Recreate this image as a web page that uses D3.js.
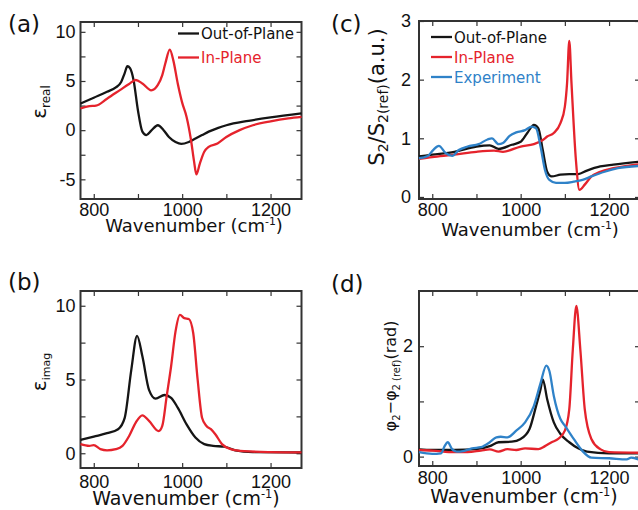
<!DOCTYPE html>
<html>
<head>
<meta charset="utf-8">
<script src="https://cdn.jsdelivr.net/npm/d3@7"></script>
<style>
  body { margin: 0; background: #fff; }
  svg { display: block; font-family: "DejaVu Sans", sans-serif; }
</style>
</head>
<body>
<svg width="638" height="510"></svg>
<script>
// (a) real part of permittivity
const aOutWn = [770, 800, 830, 850, 862, 870, 876, 882, 890, 900, 910, 919, 930, 945, 958, 970, 985, 998, 1015, 1030, 1045, 1060, 1080, 1100, 1150, 1200, 1270]
const aOutVal = [2.7, 3.3, 3.9, 4.35, 4.9, 5.8, 6.5, 6.3, 5.1, 2.0, -0.15, -0.5, -0.05, 0.5, 0.0, -0.7, -1.2, -1.4, -1.2, -0.85, -0.5, -0.15, 0.2, 0.5, 0.95, 1.3, 1.7]
const aInWn = [770, 790, 805, 830, 860, 880, 895, 910, 930, 945, 955, 962, 972, 980, 990, 1000, 1010, 1020, 1027, 1032, 1040, 1050, 1060, 1080, 1100, 1130, 1160, 1200, 1240, 1270]
const aInVal = [2.2, 2.45, 2.5, 3.2, 4.1, 4.7, 5.1, 4.75, 4.05, 4.6, 5.6, 6.8, 8.2, 7.1, 4.75, 2.8, 1.35, -1.0, -3.2, -4.5, -3.4, -2.2, -1.7, -1.35, -0.7, 0.0, 0.5, 0.9, 1.2, 1.35]

// (b) imaginary part
const bOutWn = [770, 800, 830, 855, 870, 885, 898, 910, 925, 940, 960, 975, 990, 1010, 1030, 1050, 1070, 1095, 1120, 1160, 1270]
const bOutVal = [0.9, 1.13, 1.36, 1.63, 2.4, 5.67, 7.96, 6.57, 4.3, 3.7, 3.95, 3.76, 3.09, 1.96, 1.07, 0.62, 0.5, 0.45, 0.2, 0.08, 0.05]
const bInWn = [770, 790, 800, 815, 830, 850, 865, 880, 895, 910, 925, 947, 955, 965, 975, 985, 995, 1005, 1015, 1025, 1035, 1045, 1055, 1065, 1075, 1090, 1110, 1140, 1200, 1270]
const bInVal = [0.62, 0.5, 0.55, 0.28, 0.2, 0.28, 0.5, 1.17, 2.08, 2.57, 2.19, 1.5, 1.85, 3.87, 5.9, 8.26, 9.38, 9.16, 9.1, 8.15, 5.0, 2.41, 1.85, 1.63, 1.29, 0.62, 0.28, 0.14, 0.08, 0.06]

// (c) amplitude S2/S2(ref)
const cOutWn = [770, 800, 850, 900, 930, 950, 980, 1000, 1015, 1030, 1040, 1050, 1060, 1070, 1090, 1110, 1130, 1150, 1180, 1210, 1270]
const cOutVal = [0.69, 0.72, 0.77, 0.86, 0.88, 0.82, 0.89, 0.94, 1.09, 1.23, 1.17, 0.8, 0.43, 0.35, 0.38, 0.39, 0.39, 0.45, 0.52, 0.55, 0.6]
const cInWn = [770, 800, 850, 900, 940, 960, 1000, 1030, 1050, 1060, 1075, 1090, 1100, 1105, 1110, 1115, 1125, 1133, 1145, 1160, 1180, 1210, 1270]
const cInVal = [0.65, 0.68, 0.72, 0.77, 0.79, 0.77, 0.86, 0.9, 0.97, 1.03, 1.09, 1.26, 1.54, 1.94, 2.66, 1.94, 0.63, 0.12, 0.21, 0.35, 0.43, 0.49, 0.56]
const cExpWn = [770, 790, 802, 815, 830, 845, 860, 880, 905, 925, 935, 950, 960, 975, 990, 1010, 1025, 1035, 1045, 1055, 1065, 1080, 1100, 1120, 1140, 1160, 1190, 1220, 1270]
const cExpVal = [0.66, 0.7, 0.8, 0.87, 0.75, 0.7, 0.8, 0.86, 0.9, 0.98, 1.0, 0.9, 0.92, 1.04, 1.1, 1.14, 1.2, 1.17, 0.86, 0.46, 0.29, 0.24, 0.24, 0.26, 0.29, 0.35, 0.43, 0.49, 0.53]

// (d) phase
const dOutWn = [770, 800, 850, 900, 930, 950, 980, 1000, 1020, 1035, 1045, 1050, 1060, 1075, 1090, 1110, 1130, 1150, 1200, 1270]
const dOutVal = [0.13, 0.12, 0.12, 0.135, 0.19, 0.26, 0.27, 0.32, 0.5, 0.92, 1.22, 1.4, 1.04, 0.62, 0.41, 0.26, 0.15, 0.09, 0.06, 0.06]
const dInWn = [770, 800, 850, 880, 910, 930, 950, 970, 990, 1010, 1040, 1055, 1070, 1085, 1100, 1110, 1118, 1126, 1135, 1145, 1160, 1180, 1200, 1270]
const dInVal = [0.12, 0.11, 0.08, 0.08, 0.11, 0.13, 0.09, 0.135, 0.12, 0.15, 0.135, 0.19, 0.26, 0.32, 0.47, 0.86, 1.94, 2.73, 1.94, 0.86, 0.32, 0.135, 0.08, 0.07]
const dExpWn = [770, 800, 820, 828, 835, 845, 855, 870, 890, 910, 930, 945, 955, 970, 990, 1010, 1030, 1045, 1058, 1065, 1075, 1090, 1100, 1120, 1140, 1160, 1200, 1240, 1250, 1270]
const dExpVal = [0.08, 0.05, 0.06, 0.19, 0.26, 0.135, 0.09, 0.1, 0.15, 0.17, 0.26, 0.35, 0.36, 0.35, 0.47, 0.62, 0.92, 1.33, 1.65, 1.55, 1.1, 0.68, 0.56, 0.32, 0.1, -0.02, -0.03, -0.05, -0.02, -0.06]

const xTicks = [800, 900, 1000, 1100, 1200]
const xLabels = [800, 1000, 1200]
const legendNames = ['Out-of-Plane', 'In-Plane', 'Experiment']

const BLACK = '#151515', RED = '#e5232c', BLUE = '#2f82c8'
const svg = d3.select('svg')

function Panel (o) {
    const self = {}
    let x = d3.scaleLinear().domain([770, 1270]).range([o.left, o.left + 221])
    let y = d3.scaleLinear().domain(o.ydom).range([o.bottom, o.top])
    let g = svg.append('g')
    let clipId = 'clip-' + o.name
    g.append('clipPath').attr('id', clipId)
	.append('rect')
	.attr('x', o.left).attr('y', o.top)
	.attr('width', 221).attr('height', o.bottom - o.top)
    let fmt = labels => d => labels.includes(d) ? String(d) : ''
    g.append('g')
	.attr('class', 'axis')
	.attr('transform', 'translate(0,' + o.bottom + ')')
	.call(d3.axisBottom(x).tickValues(xTicks).tickSize(-5).tickPadding(o.xpad).tickFormat(fmt(xLabels)))
    g.append('g')
	.attr('class', 'axis')
	.attr('transform', 'translate(0,' + o.top + ')')
	.call(d3.axisTop(x).tickValues(xTicks).tickSize(-5).tickFormat(''))
    g.append('g')
	.attr('class', 'axis')
	.attr('transform', 'translate(' + o.left + ',0)')
	.call(d3.axisLeft(y).tickValues(o.yticks).tickSize(-5).tickPadding(o.ypad).tickFormat(fmt(o.ylabels)))
    g.append('g')
	.attr('class', 'axis')
	.attr('transform', 'translate(' + (o.left + 221) + ',0)')
	.call(d3.axisRight(y).tickValues(o.yticks).tickSize(-5).tickFormat(''))
    g.selectAll('.axis .domain').remove()
    g.selectAll('.axis line').attr('stroke', '#333').attr('stroke-width', 1.2)
    g.selectAll('.axis text').attr('fill', '#111').style('font-size', '18px')
    g.append('rect')
	.attr('x', o.left).attr('y', o.top)
	.attr('width', 221).attr('height', o.bottom - o.top)
	.attr('fill', 'none').attr('stroke', '#333').attr('stroke-width', 2)
    let line = d3.line()
	.x(d => x(d[0]))
	.y(d => y(d[1]))
	.curve(d3.curveMonotoneX)
    o.series.forEach(function (s) {
	g.append('path')
	    .datum(s.wn.map((w, i) => [w, s.val[i]]))
	    .attr('clip-path', 'url(#' + clipId + ')')
	    .attr('d', line)
	    .attr('fill', 'none')
	    .attr('stroke', s.color)
	    .attr('stroke-width', 2.3)
	    .attr('stroke-linejoin', 'round')
    })
    // x title
    let xt = g.append('text')
	.attr('x', o.xtitle[0]).attr('y', o.xtitle[1])
	.attr('text-anchor', 'middle')
	.style('font-size', o.xtitle[2] + 'px')
	.attr('fill', '#111')
    xt.append('tspan').text('Wavenumber (cm')
    xt.append('tspan').attr('dy', -7).style('font-size', (o.xtitle[2] * 0.6) + 'px').text('-1')
    xt.append('tspan').attr('dy', 7).text(')')
    // panel letter
    g.append('text')
	.attr('x', o.letter[0]).attr('y', o.letter[1])
	.style('font-size', '23px')
	.attr('fill', '#111')
	.text(o.name)
    self.x = x
    self.y = y
    self.g = g
    return self
}

function legend (p, x0, y0, step, items) {
    items.forEach(function (it, i) {
	p.g.append('line')
	    .attr('x1', x0).attr('x2', x0 + 21)
	    .attr('y1', y0 + i * step).attr('y2', y0 + i * step)
	    .attr('stroke', it.color).attr('stroke-width', 2.3)
	p.g.append('text')
	    .attr('x', x0 + 23).attr('y', y0 + i * step + 5.5)
	    .attr('fill', it.text)
	    .style('font-size', '15px')
	    .text(it.name)
    })
}

function ytitle (x, y, parts) {
    let t = svg.append('text')
	.attr('transform', 'translate(' + x + ',' + y + ') rotate(-90)')
	.attr('text-anchor', 'middle')
	.attr('fill', '#111')
    parts.forEach(function (p) {
	t.append('tspan').attr('dy', p[2]).style('font-size', p[1] + 'px').text(p[0])
    })
}

let pa = Panel({
    name: '(a)', left: 80.5, top: 22, bottom: 199, ydom: [-7, 11],
    yticks: [-5, -2.5, 0, 2.5, 5, 7.5, 10], ylabels: [-5, 0, 5, 10], xpad: 4, ypad: 5,
    xtitle: [194, 232, 18], letter: [8, 32],
    series: [
	{wn: aOutWn, val: aOutVal, color: BLACK},
	{wn: aInWn, val: aInVal, color: RED}
    ]
})
legend(pa, 178, 33.5, 24, [
    {name: legendNames[0], color: BLACK, text: '#111'},
    {name: legendNames[1], color: RED, text: RED}
])
ytitle(46, 102, [['ε', 20, 0], ['real', 12, 4]])

let pb = Panel({
    name: '(b)', left: 80.5, top: 291, bottom: 468, ydom: [-1, 11],
    yticks: [0, 2.5, 5, 7.5, 10], ylabels: [0, 5, 10], xpad: 7, ypad: 5,
    xtitle: [186, 505, 19], letter: [8, 290],
    series: [
	{wn: bOutWn, val: bOutVal, color: BLACK},
	{wn: bInWn, val: bInVal, color: RED}
    ]
})
ytitle(46, 372, [['ε', 20, 0], ['imag', 11, 4]])

let pc = Panel({
    name: '(c)', left: 419, top: 21, bottom: 199, ydom: [-0.035, 3],
    yticks: [0, 1, 2, 3], ylabels: [0, 1, 2, 3], xpad: 4, ypad: 8,
    xtitle: [530, 236, 18], letter: [331, 32],
    series: [
	{wn: cOutWn, val: cOutVal, color: BLACK},
	{wn: cInWn, val: cInVal, color: RED},
	{wn: cExpWn, val: cExpVal, color: BLUE}
    ]
})
legend(pc, 431, 37, 20, [
    {name: legendNames[0], color: BLACK, text: '#111'},
    {name: legendNames[1], color: RED, text: RED},
    {name: legendNames[2], color: BLUE, text: BLUE}
])
ytitle(384, 97, [['S', 21, 0], ['2', 14, 4], ['/S', 21, -4], ['2(ref)', 14, 4], ['(a.u.)', 21, -4]])

let pd = Panel({
    name: '(d)', left: 419, top: 291, bottom: 466, ydom: [-0.17, 3],
    yticks: [0, 1, 2], ylabels: [0, 2], xpad: 5, ypad: 6,
    xtitle: [524, 503, 19], letter: [331, 292],
    series: [
	{wn: dOutWn, val: dOutVal, color: BLACK},
	{wn: dInWn, val: dInVal, color: RED},
	{wn: dExpWn, val: dExpVal, color: BLUE}
    ]
})
ytitle(396, 376, [['φ', 16, 0], ['2', 10, 4], ['−φ', 16, -4], ['2 (ref)', 10, 4], ['(rad)', 16, -4]])
</script>
</body>
</html>
